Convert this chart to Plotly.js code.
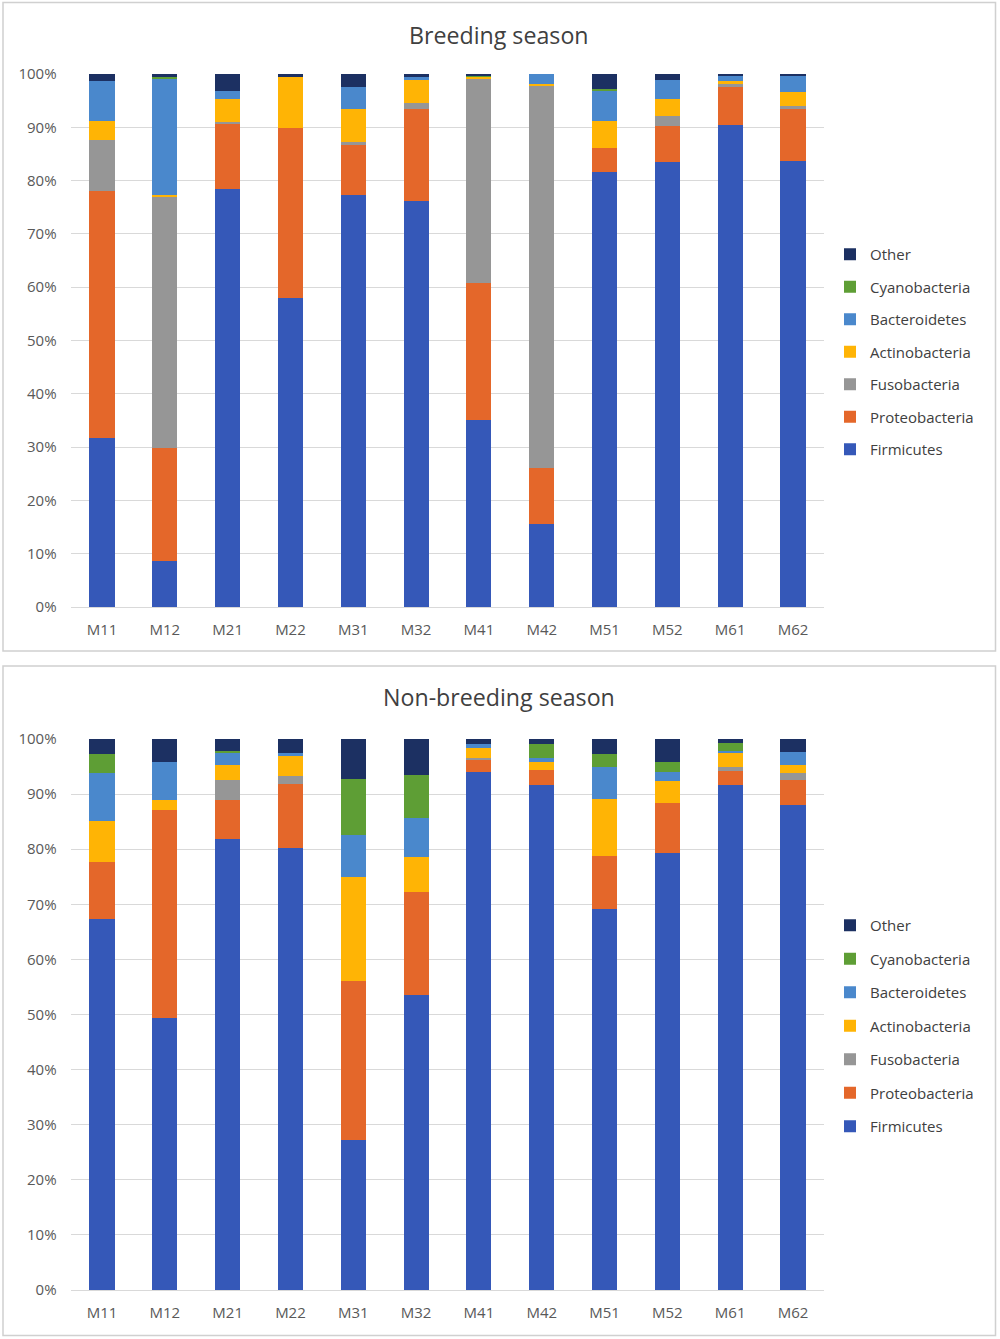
<!DOCTYPE html>
<html>
<head>
<meta charset="utf-8">
<script src="https://cdn.plot.ly/plotly-3.0.1.min.js"></script>
<style>html,body{margin:0;padding:0;background:#fff;}#chart{width:1000px;height:1339px;}</style>
</head>
<body>
<div id="chart"></div>
<script>
const samples = ["M11","M12","M21","M22","M31","M32","M41","M42","M51","M52","M61","M62"];
const phyla = ["Firmicutes","Proteobacteria","Fusobacteria","Actinobacteria","Bacteroidetes","Cyanobacteria","Other"];
const yTickVals = [0,10,20,30,40,50,60,70,80,90,100];
const yTickText = ["0%","10%","20%","30%","40%","50%","60%","70%","80%","90%","100%"];
const panelTitles = ["Breeding season","Non-breeding season"];

// Breeding season (%)
const breedFirmicutes     = [31.7, 8.6, 78.4, 58.0, 77.3, 76.1, 35.1, 15.6, 81.6, 83.5, 90.4, 83.7];
const breedProteobacteria = [46.3, 21.2, 12.2, 31.9, 9.4, 17.3, 25.7, 10.5, 4.6, 6.7, 7.2, 9.7];
const breedFusobacteria   = [9.7, 47.2, 0.4, 0, 0.6, 1.1, 38.3, 71.8, 0, 2.0, 0.5, 0.6];
const breedActinobacteria = [3.4, 0.3, 4.4, 9.6, 6.1, 4.4, 0.3, 0.3, 5.0, 3.2, 0.6, 2.6];
const breedBacteroidetes  = [7.6, 21.9, 1.4, 0, 4.1, 0.6, 0, 1.8, 5.7, 3.4, 1.0, 3.0];
const breedCyanobacteria  = [0, 0.2, 0, 0, 0, 0, 0.4, 0, 0.2, 0, 0, 0];
const breedOther          = [1.3, 0.6, 3.2, 0.5, 2.5, 0.5, 0.2, 0, 2.9, 1.2, 0.3, 0.4];

// Non-breeding season (%)
const nonFirmicutes     = [67.3, 49.4, 81.9, 80.3, 27.2, 53.5, 94.1, 91.6, 69.1, 79.4, 91.7, 88.0];
const nonProteobacteria = [10.3, 37.8, 7.0, 11.5, 28.9, 18.7, 2.0, 2.8, 9.6, 8.9, 2.5, 4.6];
const nonFusobacteria   = [0, 0, 3.7, 1.5, 0, 0, 0.5, 0, 0, 0, 0.7, 1.2];
const nonActinobacteria = [7.5, 1.7, 2.6, 3.7, 18.9, 6.3, 1.7, 1.4, 10.4, 4.1, 2.5, 1.5];
const nonBacteroidetes  = [8.7, 6.9, 2.2, 0.4, 7.5, 7.2, 0.8, 0.8, 5.9, 1.7, 0.5, 2.4];
const nonCyanobacteria  = [3.4, 0, 0.5, 0, 10.2, 7.7, 0, 2.5, 2.2, 1.7, 1.4, 0];
const nonOther          = [2.8, 4.2, 2.1, 2.6, 7.3, 6.6, 0.9, 0.9, 2.8, 4.2, 0.7, 2.3];

const colors = {
  Firmicutes: "#3558B8",
  Proteobacteria: "#E4672A",
  Fusobacteria: "#969696",
  Actinobacteria: "#FFB405",
  Bacteroidetes: "#4A88CC",
  Cyanobacteria: "#5E9E35",
  Other: "#1C3062"
};

const breedData = [breedFirmicutes, breedProteobacteria, breedFusobacteria, breedActinobacteria, breedBacteroidetes, breedCyanobacteria, breedOther];
const nonData = [nonFirmicutes, nonProteobacteria, nonFusobacteria, nonActinobacteria, nonBacteroidetes, nonCyanobacteria, nonOther];

const W = 1000, H = 1339;
const px = v => v / W;
const py = v => 1 - v / H;

const traces = [];
[breedData, nonData].forEach((set, si) => {
  set.forEach((vals, i) => {
    traces.push({
      type: "bar",
      name: phyla[i],
      x: samples,
      y: vals,
      xaxis: si === 0 ? "x" : "x2",
      yaxis: si === 0 ? "y" : "y2",
      legend: si === 0 ? "legend" : "legend2",
      legendgroup: "g" + si + "_" + i,
      legendrank: 1000 - i,
      marker: { color: colors[phyla[i]], line: { width: 0 } },
      hoverinfo: "name+y"
    });
  });
});

const fontFam = "'Open Sans', sans-serif";
const tickFont = { family: fontFam, size: 15, color: "#595959" };

function xAxis(anchor) {
  return {
    domain: [px(70.6), px(824.4)],
    anchor: anchor,
    type: "category",
    showgrid: false,
    showline: true,
    linecolor: "#D9D9D9",
    linewidth: 1,
    ticks: "",
    tickfont: tickFont,
    ticklabelstandoff: 9,
    fixedrange: true
  };
}
function yAxis(anchor, top, bottom) {
  return {
    domain: [py(bottom), py(top)],
    anchor: anchor,
    range: [0, 100],
    tickvals: yTickVals,
    ticktext: yTickText,
    showgrid: true,
    gridcolor: "#D9D9D9",
    gridwidth: 1,
    zeroline: false,
    showline: false,
    ticks: "",
    tickfont: tickFont,
    ticklabelstandoff: 13,
    fixedrange: true
  };
}

const legendCommon = {
  traceorder: "grouped",
  font: { family: fontFam, size: 15, color: "#404040" },
  bgcolor: "rgba(0,0,0,0)",
  itemclick: false,
  itemdoubleclick: false,
  itemwidth: 30,
  xanchor: "left",
  yanchor: "top"
};

const layout = {
  width: W,
  height: H,
  margin: { l: 0, r: 0, t: 0, b: 0 },
  paper_bgcolor: "#fff",
  plot_bgcolor: "#fff",
  barmode: "stack",
  bargap: 0.6,
  showlegend: true,
  xaxis: xAxis("y"),
  yaxis: yAxis("x", 74, 607),
  xaxis2: xAxis("y2"),
  yaxis2: yAxis("x2", 739, 1290),
  legend: Object.assign({}, legendCommon, { x: px(830), y: py(238), tracegroupgap: 10 }),
  legend2: Object.assign({}, legendCommon, { x: px(830), y: py(909), tracegroupgap: 11 }),
  annotations: [
    { text: panelTitles[0], xref: "paper", yref: "paper", x: px(499), y: py(35), xanchor: "center", yanchor: "middle", showarrow: false, font: { family: fontFam, size: 23.2, color: "#404040" } },
    { text: panelTitles[1], xref: "paper", yref: "paper", x: px(499), y: py(697), xanchor: "center", yanchor: "middle", showarrow: false, font: { family: fontFam, size: 23.2, color: "#404040" } }
  ],
  shapes: [
    { type: "rect", xref: "paper", yref: "paper", x0: px(3), x1: px(995.5), y0: py(651), y1: py(2.5), line: { color: "#D0D0D0", width: 1.5 }, fillcolor: "rgba(0,0,0,0)", layer: "below" },
    { type: "rect", xref: "paper", yref: "paper", x0: px(3), x1: px(995.5), y0: py(1335.5), y1: py(666), line: { color: "#D0D0D0", width: 1.5 }, fillcolor: "rgba(0,0,0,0)", layer: "below" }
  ]
};

Plotly.newPlot("chart", traces, layout, { displayModeBar: false, staticPlot: false });
</script>
</body>
</html>
